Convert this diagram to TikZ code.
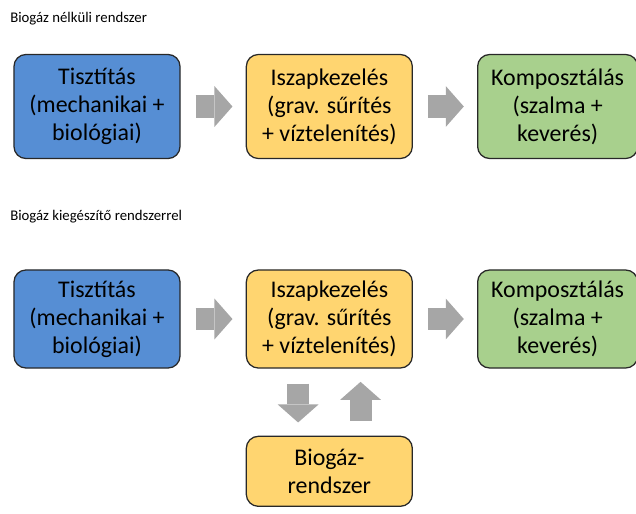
\documentclass[tikz,border=0pt]{standalone}
\usepackage{fontspec}
\setmainfont{Carlito}
\usetikzlibrary{positioning, arrows.meta}
\definecolor{boxblue}{RGB}{86, 142, 212}
\definecolor{boxyellow}{RGB}{255, 213, 112}
\definecolor{boxgreen}{RGB}{168, 208, 141}
\definecolor{arrowgray}{RGB}{166, 166, 166}
\definecolor{edge}{RGB}{40, 40, 40}

\begin{document}
\begin{tikzpicture}[x=0.025cm, y=-0.025cm,
    stage/.style={draw=edge, line width=0.9pt, rounded corners=0.3cm, align=center, inner sep=0pt,
                  minimum width=4.15cm, font=\fontsize{17}{20}\selectfont},
    flow/.style={draw=arrowgray, line width=0.55cm, shorten <=0.375cm, shorten >=0.33cm,
                 -{Triangle[length=0.45cm, width=1.02cm, line width=0pt]}},
    heading/.style={anchor=base west, inner sep=0pt, font=\fontsize{10.5}{12}\selectfont}]
    \useasboundingbox (0,0) rectangle (636,513);

    % Without biogas
    \node[heading] (h1) at (10,22) {Biogáz nélküli rendszer};
    \node[stage, fill=boxblue, minimum height=2.6cm] (t1) at (97,106.5) {Tisztítás\\(mechanikai +\\biológiai)};
    \node[stage, fill=boxyellow, minimum height=2.6cm, right=1.625cm of t1] (i1) {Iszapkezelés\\(grav. sűrítés\\+ víztelenítés)};
    \node[stage, fill=boxgreen, minimum height=2.6cm, minimum width=4cm, right=1.6cm of i1] (k1) {Komposztálás\\(szalma +\\keverés)};
    \draw[flow] (t1) -- (i1);
    \draw[flow] (i1) -- (k1);

    % With biogas
    \node[heading] (h2) at (10,220) {Biogáz kiegészítő rendszerrel};
    \node[stage, fill=boxblue, minimum height=2.45cm] (t2) at (97,319) {Tisztítás\\(mechanikai +\\biológiai)};
    \node[stage, fill=boxyellow, minimum height=2.45cm, right=1.625cm of t2] (i2) {Iszapkezelés\\(grav. sűrítés\\+ víztelenítés)};
    \node[stage, fill=boxgreen, minimum height=2.45cm, minimum width=4cm, right=1.6cm of i2] (k2) {Komposztálás\\(szalma +\\keverés)};
    \node[stage, fill=boxyellow, minimum height=1.75cm, below=1.675cm of i2] (b2) {Biogáz-\\rendszer};
    \draw[flow] (t2) -- (i2);
    \draw[flow] (i2) -- (k2);
    \draw[flow] ([xshift=-0.78cm]i2.south) -- ([xshift=-0.78cm]b2.north);
    \draw[flow] ([xshift=0.78cm]b2.north) -- ([xshift=0.78cm]i2.south);
\end{tikzpicture}
\end{document}
